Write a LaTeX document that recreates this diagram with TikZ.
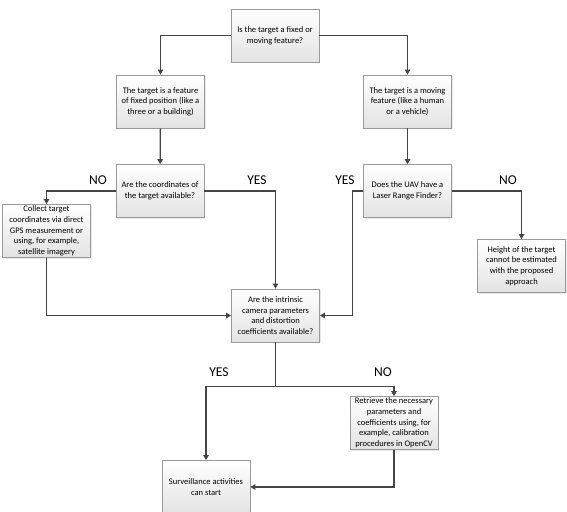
\documentclass[tikz,border=0pt]{standalone}
\usepackage{fontspec}
\setmainfont{Carlito}
\usepackage{tikz}
\usetikzlibrary{arrows.meta,positioning,calc,shadows}

\definecolor{linegray}{HTML}{454545}
\definecolor{boxedge}{HTML}{9A9A9A}

\tikzset{
	flowbox/.style={draw=boxedge, line width=0.8pt, top color=white, bottom color=gray!22,
		drop shadow={shadow xshift=1pt, shadow yshift=-1pt, fill=gray!35},
		minimum width=88pt, minimum height=53pt, inner sep=1pt, align=center,
		font=\fontsize{8.5}{10.7}\selectfont},
	flowline/.style={draw=linegray, line width=1.2pt, -{Triangle[length=5pt,width=5.5pt]}},
	answer/.style={font=\fontsize{13.5}{14}\selectfont, text=black}
}

\begin{document}
\begin{tikzpicture}[x=1pt, y=-1pt] %像素坐标
		\useasboundingbox (0,0) rectangle (567,511);
		% boxes
		\node[flowbox] (kind) at (275,35.5) {Is the target a fixed or\\moving feature?};
		\node[flowbox] (fixed) at (160.5,101.5) {The target is a feature\\of fixed position (like a\\three or a building)};
		\node[flowbox] (moving) at (407.5,101.5) {The target is a moving\\feature (like a human\\or a vehicle)};
		\node[flowbox] (coords) at (160,191) {Are the coordinates of\\the target available?};
		\node[flowbox] (laser) at (407.5,191) {Does the UAV have a\\Laser Range Finder?};
		\node[flowbox] (collect) at (46.5,231) {Collect target\\coordinates via direct\\GPS measurement or\\using, for example,\\satellite imagery};
		\node[flowbox] (noheight) at (521.5,266) {Height of the target\\cannot be estimated\\with the proposed\\approach};
		\node[flowbox] (intrinsic) at (275.5,315.5) {Are the intrinsic\\camera parameters\\and distortion\\coefficients available?};
		\node[flowbox] (retrieve) at (394,423) {Retrieve the necessary\\parameters and\\coefficients using, for\\example, calibration\\procedures in OpenCV};
		\node[flowbox] (start) at (206,487) {Surveillance activities\\can start};
		% helper points
		\coordinate (laserbend) at ($(laser.west)+(-11,0)$);
		\coordinate (split) at ($(intrinsic.south)+(0,44)$);
		% connectors
		\draw[flowline] (kind.west) -| (fixed.north);
		\draw[flowline] (kind.east) -| (moving.north);
		\draw[flowline] (fixed) -- (coords);
		\draw[flowline] (moving) -- (laser);
		\draw[flowline] (coords.west) -| (collect.north);
		\draw[flowline] (coords.east) -| (intrinsic.north);
		\draw[flowline] (laser.east) -| (noheight.north);
		\draw[flowline] (laser.west) -- (laserbend) |- (intrinsic.east);
		\draw[flowline] (collect.south) |- (intrinsic.west);
		\draw[draw=linegray, line width=1.2pt] (intrinsic.south) -- (split);
		\draw[flowline] (split) -| (start.north);
		\draw[flowline] (split) -| (retrieve.north);
		\draw[flowline] (retrieve.south) |- (start.east);
		% answers
		\node[answer] (noA) at (98,180) {NO};
		\node[answer] (yesA) at (257,180) {YES};
		\node[answer] (yesB) at (345,180) {YES};
		\node[answer] (noB) at (508,180) {NO};
		\node[answer] (yesC) at (219,372) {YES};
		\node[answer] (noC) at (383,372) {NO};
	\end{tikzpicture}
\end{document}
